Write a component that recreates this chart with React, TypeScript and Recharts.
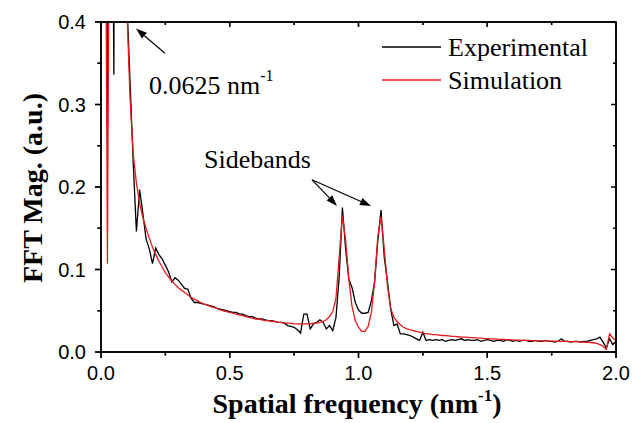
import React from 'react';
import { LineChart, Line, XAxis, YAxis, ReferenceLine } from 'recharts';

// FFT bin width (nm^-1); first bin is at 1 * BIN
const BIN = 0.0125;

const experimental = [
  0.8, 0.275, 0.9, 0.336, 2.0, 1.3, 0.75, 0.43, 0.33, 0.23,
  0.146, 0.197, 0.168, 0.137, 0.125, 0.107, 0.126, 0.118, 0.113, 0.105,
  0.097, 0.085, 0.09, 0.087, 0.082, 0.077, 0.076, 0.065, 0.06, 0.06,
  0.059, 0.058, 0.057, 0.056, 0.055, 0.053, 0.052, 0.051, 0.05, 0.049,
  0.048, 0.048, 0.046, 0.046, 0.044, 0.043, 0.043, 0.041, 0.04, 0.04,
  0.039, 0.038, 0.038, 0.037, 0.036, 0.036, 0.035, 0.032, 0.031, 0.03,
  0.027, 0.023, 0.046, 0.046, 0.028, 0.034, 0.036, 0.039, 0.036, 0.028,
  0.032, 0.026, 0.042, 0.091, 0.175, 0.125, 0.088, 0.078, 0.06, 0.051,
  0.047, 0.047, 0.048, 0.062, 0.085, 0.135, 0.172, 0.115, 0.085, 0.052,
  0.032, 0.034, 0.022, 0.022, 0.021, 0.02, 0.018, 0.016, 0.014, 0.024,
  0.014, 0.015, 0.014, 0.015,
  0.014, 0.015, 0.013, 0.014, 0.015, 0.014, 0.015, 0.016, 0.014, 0.015,
  0.014, 0.014, 0.015, 0.013, 0.014, 0.015, 0.014, 0.013, 0.014, 0.014,
  0.013, 0.015, 0.014, 0.013, 0.014, 0.013, 0.014, 0.014, 0.013, 0.013,
  0.014, 0.013, 0.013, 0.014, 0.013, 0.013, 0.012, 0.013, 0.016, 0.013,
  0.013, 0.012, 0.013, 0.013, 0.012, 0.013, 0.013,
  0.014, 0.015, 0.016, 0.018, 0.012, 0.005, 0.016, 0.009, 0.013,
];

const simulation = [
  0.9, 0.107, 0.95, 1.2, 1.5, 1.0, 0.65, 0.42, 0.31, 0.24,
  0.205, 0.18, 0.163, 0.15, 0.138, 0.127, 0.118, 0.11, 0.103, 0.096,
  0.091, 0.086, 0.082, 0.078, 0.075, 0.072, 0.069, 0.066, 0.064, 0.062,
  0.06, 0.058, 0.057, 0.055, 0.054, 0.053, 0.051, 0.05, 0.049, 0.048,
  0.047, 0.046, 0.045, 0.044, 0.043, 0.042, 0.041, 0.04, 0.04, 0.039,
  0.038, 0.038, 0.037, 0.037, 0.036, 0.036, 0.035, 0.035, 0.035, 0.034,
  0.034, 0.034, 0.034, 0.034, 0.034, 0.035, 0.035, 0.036, 0.037, 0.039,
  0.043, 0.049, 0.065, 0.115, 0.166, 0.135, 0.088, 0.055, 0.038, 0.03,
  0.025, 0.025, 0.031, 0.048, 0.085, 0.14, 0.164, 0.125, 0.08, 0.053,
  0.042, 0.037, 0.033, 0.03, 0.028, 0.027, 0.026, 0.025, 0.024, 0.023,
  0.022, 0.022, 0.021, 0.021,
  0.0205, 0.02, 0.02, 0.0195, 0.019, 0.019, 0.0185, 0.018, 0.018, 0.0178,
  0.0175, 0.0172, 0.017, 0.0168, 0.0165, 0.0163, 0.016, 0.0158, 0.0156, 0.0154,
  0.0152, 0.015, 0.0148, 0.0147, 0.0145, 0.0144, 0.0142, 0.0141, 0.014, 0.0138,
  0.0137, 0.0136, 0.0135, 0.0134, 0.0133, 0.0132, 0.0131, 0.013, 0.0129, 0.0128,
  0.0127, 0.0126, 0.0125, 0.0124, 0.0122, 0.012, 0.0118,
  0.0115, 0.0112, 0.0105, 0.009, 0.007, 0.003, 0.022, 0.017, 0.014,
];

const xTicks = [0, 0.25, 0.5, 0.75, 1, 1.25, 1.5, 1.75, 2];
const xLabels = [0, 0.5, 1, 1.5, 2];
const yTicks = [0, 0.05, 0.1, 0.15, 0.2, 0.25, 0.3, 0.35, 0.4];
const yLabels = [0, 0.1, 0.2, 0.3, 0.4];

const series = [
  { key: 'exp', name: 'Experimental', color: '#000' },
  { key: 'sim', name: 'Simulation', color: '#e8191b' },
];

const data = experimental.map((v, i) => ({
  freq: (i + 1) * BIN,
  exp: v,
  sim: simulation[i],
}));

const SANS = 'Arial, "Liberation Sans", sans-serif';
const SERIF = '"Times New Roman", "Liberation Serif", serif';
const AXIS_LINE = { stroke: '#000', strokeWidth: 1.5 };

// plot box (follows from the chart margins and axis sizes below)
const W = 641;
const H = 423;
const PL = 101;
const PT = 22;
const PR = W - 25;
const PB = H - 71;
const X_MAX = 2;
const Y_MAX = 0.4;

const isMajor = (v: number, labels: number[]) => labels.some((l) => Math.abs(l - v) < 1e-6);

// with tickSize 6 / tickMargin 0 the tick props sit at the outer end of the tick line
const BottomTick = ({ x, y, payload }: any) => {
  const major = isMajor(payload.value, xLabels);
  return (
    <g>
      <line x1={x} x2={x} y1={y - 6} y2={y - 6 + (major ? 6 : 3.5)} stroke="#000" strokeWidth={1.3} />
      {major && (
        <text x={x} y={y + 22} textAnchor="middle" fontFamily={SANS} fontSize={20} fill="#000">
          {payload.value.toFixed(1)}
        </text>
      )}
    </g>
  );
};

const LeftTick = ({ x, y, payload }: any) => {
  const major = isMajor(payload.value, yLabels);
  return (
    <g>
      <line x1={x + 6} x2={x + 6 - (major ? 6 : 3.5)} y1={y} y2={y} stroke="#000" strokeWidth={1.3} />
      {major && (
        <text x={x - 9} y={y + 7} textAnchor="end" fontFamily={SANS} fontSize={20} fill="#000">
          {payload.value.toFixed(1)}
        </text>
      )}
    </g>
  );
};

const TopTick = ({ x, y, payload }: any) => {
  const major = isMajor(payload.value, xLabels);
  return <line x1={x} x2={x} y1={y + 6} y2={y + 6 + (major ? 5 : 3)} stroke="#000" strokeWidth={1.3} />;
};

const RightTick = ({ x, y, payload }: any) => {
  const major = isMajor(payload.value, yLabels);
  return <line x1={x - 6} x2={x - 6 - (major ? 5 : 3)} y1={y} y2={y} stroke="#000" strokeWidth={1.3} />;
};

const Arrow = ({ x1, y1, x2, y2 }: any) => {
  const a = Math.atan2(y2 - y1, x2 - x1);
  const len = 11;
  const w = 3.8;
  const bx = x2 - len * Math.cos(a);
  const by = y2 - len * Math.sin(a);
  const pts = [
    [x2, y2],
    [bx + w * Math.sin(a), by - w * Math.cos(a)],
    [bx - w * Math.sin(a), by + w * Math.cos(a)],
  ]
    .map((p) => p.join(','))
    .join(' ');
  return (
    <g>
      <line x1={x1} y1={y1} x2={bx} y2={by} stroke="#000" strokeWidth={1.2} />
      <polygon points={pts} fill="#000" />
    </g>
  );
};

const px = (v: number) => PL + (v / X_MAX) * (PR - PL);
const py = (v: number) => PB - (v / Y_MAX) * (PB - PT);

export default function App() {
  return (
    <div style={{ position: 'absolute', left: 0, top: 0, width: W, height: H }}>
      <LineChart width={W} height={H} data={data} margin={{ top: 21, right: 24, bottom: 0, left: 0 }}>
        <XAxis
          xAxisId="b"
          type="number"
          dataKey="freq"
          domain={[0, X_MAX]}
          ticks={xTicks}
          interval={0}
          tick={BottomTick}
          tickLine={false}
          tickSize={6}
          tickMargin={0}
          height={71}
          axisLine={AXIS_LINE}
        />
        <XAxis
          xAxisId="t"
          orientation="top"
          type="number"
          dataKey="freq"
          domain={[0, X_MAX]}
          ticks={xTicks}
          interval={0}
          tick={TopTick}
          tickLine={false}
          tickSize={6}
          tickMargin={0}
          height={1}
          axisLine={AXIS_LINE}
        />
        <YAxis
          yAxisId="l"
          type="number"
          domain={[0, Y_MAX]}
          ticks={yTicks}
          interval={0}
          tick={LeftTick}
          tickLine={false}
          tickSize={6}
          tickMargin={0}
          width={101}
          allowDataOverflow
          axisLine={AXIS_LINE}
        />
        <YAxis
          yAxisId="r"
          orientation="right"
          type="number"
          domain={[0, Y_MAX]}
          ticks={yTicks}
          interval={0}
          tick={RightTick}
          tickLine={false}
          tickSize={6}
          tickMargin={0}
          width={1}
          axisLine={AXIS_LINE}
        />
        {series.map((s) => (
          <Line
            key={s.key}
            xAxisId="b"
            yAxisId="l"
            name={s.name}
            dataKey={s.key}
            type="linear"
            stroke={s.color}
            strokeWidth={1.3}
            dot={false}
            isAnimationActive={false}
          />
        ))}
        <ReferenceLine
          xAxisId="b"
          yAxisId="l"
          segment={[{ x: 0.2485, y: 0.3621 }, { x: 0.136, y: 0.392 }]}
          shape={Arrow}
          ifOverflow="visible"
        />
        <ReferenceLine
          xAxisId="b"
          yAxisId="l"
          segment={[{ x: 0.8194, y: 0.2087 }, { x: 0.9165, y: 0.1771 }]}
          shape={Arrow}
          ifOverflow="visible"
        />
        <ReferenceLine
          xAxisId="b"
          yAxisId="l"
          segment={[{ x: 0.8194, y: 0.2087 }, { x: 1.0485, y: 0.1771 }]}
          shape={Arrow}
          ifOverflow="visible"
        />
      </LineChart>
      <svg width={W} height={H} style={{ position: 'absolute', left: 0, top: 0 }}>
        {/* frame and tick marks */}
        <rect x={PL} y={PT} width={PR - PL} height={PB - PT} fill="none" stroke="#000" strokeWidth={1.6} />
        {xTicks.map((v) => {
          const major = isMajor(v, xLabels);
          return (
            <g key={`xt${v}`}>
              <line x1={px(v)} x2={px(v)} y1={PB} y2={PB + (major ? 6 : 3.5)} stroke="#000" strokeWidth={1.5} />
              <line x1={px(v)} x2={px(v)} y1={PT} y2={PT + (major ? 5 : 3)} stroke="#000" strokeWidth={1.5} />
            </g>
          );
        })}
        {yTicks.map((v) => {
          const major = isMajor(v, yLabels);
          return (
            <g key={`yt${v}`}>
              <line x1={PL} x2={PL - (major ? 6 : 3.5)} y1={py(v)} y2={py(v)} stroke="#000" strokeWidth={1.5} />
              <line x1={PR} x2={PR - (major ? 5 : 3)} y1={py(v)} y2={py(v)} stroke="#000" strokeWidth={1.5} />
            </g>
          );
        })}
        {series.map((s, i) => (
          <g key={s.key}>
            <line x1={382} x2={441} y1={47 + i * 33} y2={47 + i * 33} stroke={s.color} strokeWidth={1.3} />
            <text x={448} y={56 + i * 33} fontFamily={SERIF} fontSize={26} fill="#000">
              {s.name}
            </text>
          </g>
        ))}
        <text x={149} y={94} fontFamily={SERIF} fontSize={26} fill="#000">
          0.0625 nm
          <tspan fontSize={16} dy={-13}>-1</tspan>
        </text>
        <text x={204} y={168} fontFamily={SERIF} fontSize={26} fill="#000">
          Sidebands
        </text>
        <text x={357} y={413} textAnchor="middle" fontFamily={SERIF} fontWeight="bold" fontSize={28} fill="#000">
          Spatial frequency (nm
          <tspan fontSize={17} dy={-12}>-1</tspan>
          <tspan dy={12}>)</tspan>
        </text>
        <text
          transform="rotate(-90)"
          x={-188}
          y={42}
          textAnchor="middle"
          fontFamily={SERIF}
          fontWeight="bold"
          fontSize={28}
          fill="#000"
        >
          FFT Mag. (a.u.)
        </text>
      </svg>
    </div>
  );
}
